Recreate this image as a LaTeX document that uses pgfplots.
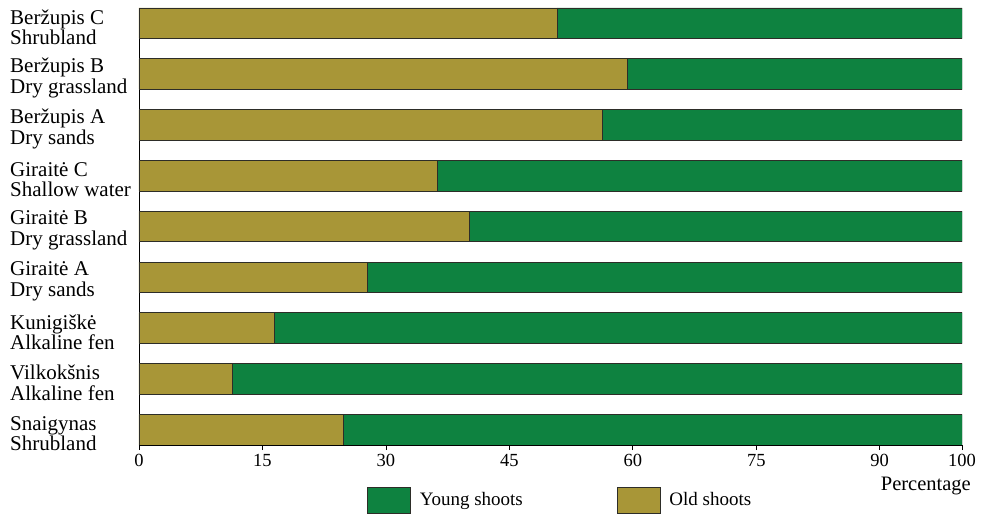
\documentclass[border=0pt]{standalone}
\usepackage{fontspec}
\setmainfont{Liberation Serif}
\usepackage{pgfplots}
\pgfplotsset{compat=1.18}
\definecolor{oldc}{RGB}{168,150,55}
\definecolor{youngc}{RGB}{14,130,64}
\definecolor{edgec}{RGB}{45,45,40}
\begin{document}
\begin{tikzpicture}
\begin{axis}[
  scale only axis,
  width=823bp, height=437bp,
  xbar stacked,
  bar width=0.6,
  xmin=0, xmax=100,
  ymin=-0.3, ymax=8.3,
  axis lines=left,
  axis line style={-, black, line width=0.9bp},
  xtick={0,15,30,45,60,75,90,100},
  tick align=outside,
  major tick length=5bp,
  xtick style={black, line width=0.8bp},
  ytick={0,...,8},
  ytick style={draw=none},
  yticklabels={{Snaigynas\\Shrubland},{Vilkokšnis\\Alkaline fen},{Kunigiškė\\Alkaline fen},{Giraitė A\\Dry sands},{Giraitė B\\Dry grassland},{Giraitė C\\Shallow water},{Beržupis A\\Dry sands},{Beržupis B\\Dry grassland},{Beržupis C\\Shrubland}},
  yticklabel style={align=left, anchor=west, inner sep=0pt, xshift=-124bp, yshift=-4bp, font=\fontsize{21bp}{20.5bp}\selectfont},
  xticklabel style={font=\fontsize{18.5bp}{20bp}\selectfont, inner sep=0pt, yshift=-4bp},
  /pgf/number format/assume math mode=true,
  xlabel={Percentage},
  xlabel style={at={(axis description cs:1,0)}, anchor=north east, inner sep=0pt, xshift=9bp, yshift=-32bp, font=\fontsize{20.5bp}{22bp}\selectfont},
  legend columns=2,
  legend style={draw=none, inner sep=0pt, at={(axis description cs:0.277,-0.126)}, anchor=west, font=\fontsize{19bp}{21bp}\selectfont, /tikz/every even column/.append style={column sep=92bp}},
  legend image code/.code={\draw[#1, draw=edgec, line width=0.8bp] (0bp,-13bp) rectangle (43bp,13bp); \path (50bp,0bp);},
]
\addlegendimage{fill=youngc}
\addlegendentry{Young shoots}
\addlegendimage{fill=oldc}
\addlegendentry{Old shoots}
\addplot[fill=oldc, draw=edgec, line width=0.8bp, forget plot] coordinates {
 (24.8,0) (11.4,1) (16.4,2) (27.7,3) (40.1,4) (36.3,5) (56.3,6) (59.4,7) (50.8,8)};
\addplot[fill=youngc, draw=edgec, line width=0.8bp, forget plot] coordinates {
 (75.2,0) (88.6,1) (83.6,2) (72.3,3) (59.9,4) (63.7,5) (43.7,6) (40.6,7) (49.2,8)};
\end{axis}
\pgfresetboundingbox
\path[use as bounding box] ([xshift=-139bp,yshift=-70bp]current axis.south west) rectangle ([xshift=20bp,yshift=8bp]current axis.north east);
\end{tikzpicture}
\end{document}
